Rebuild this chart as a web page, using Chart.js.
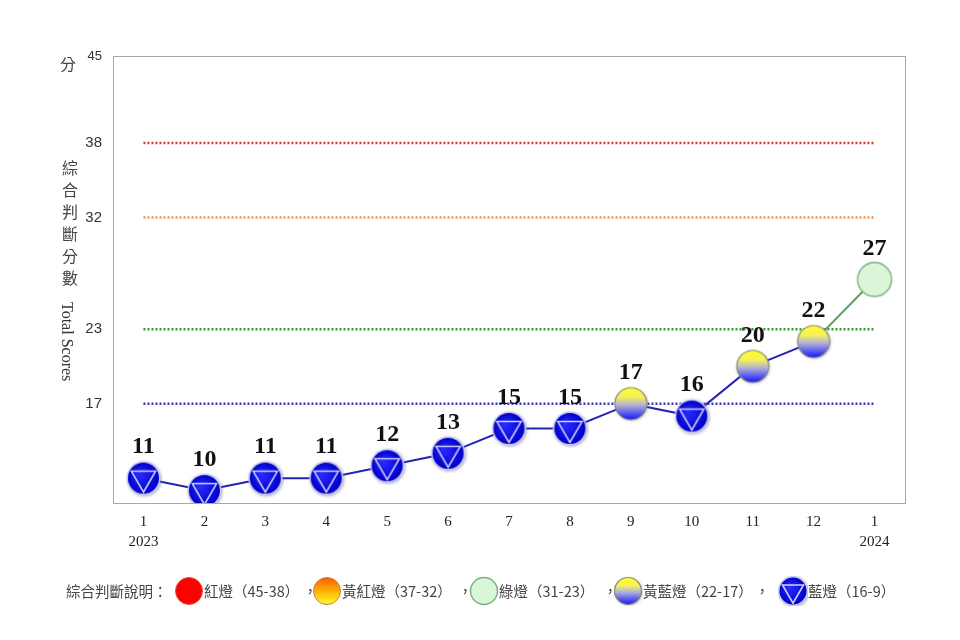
<!DOCTYPE html>
<html>
<head>
<meta charset="utf-8">
<script src="https://cdn.jsdelivr.net/npm/chart.js@4"></script>
<style>
  body { margin: 0; background: #fff; }
  #wrap { position: relative; width: 960px; height: 640px; }
  .txt { position: absolute; color: #444; font-family: "Noto Sans CJK TC", sans-serif; white-space: nowrap; }
  .vert { writing-mode: vertical-rl; }
  .legend-item { position: absolute; top: 578px; height: 26px; line-height: 26px; font-size: 14.5px; color: #444;
    font-family: "Noto Sans CJK TC", sans-serif; white-space: nowrap; }
  .legend-item canvas { position: absolute; }
</style>
</head>
<body>
<div id="wrap">
  <canvas id="scoreChart" width="960" height="640"></canvas>
  <div class="txt" style="left:60px; top:51px; font-size:16px;">分</div>
  <div class="txt vert" style="left:58px; top:160px; font-size:16px; letter-spacing:6px;">綜合判斷分數</div>
  <div class="txt vert" style="left:58px; top:302px; font-size:16px; color:#333; font-family:'Liberation Serif', serif;">Total Scores</div>
  <div id="legend"></div>
</div>
<script>
// Monthly composite scores
const months = ['1', '2', '3', '4', '5', '6', '7', '8', '9', '10', '11', '12', '1'];
const years = ['2023', '', '', '', '', '', '', '', '', '', '', '', '2024'];
const scores = [11, 10, 11, 11, 12, 13, 15, 15, 17, 16, 20, 22, 27];

// Y axis ticks and signal thresholds
const yTicks = [17, 23, 32, 38, 45];
const thresholds = [38, 32, 23, 17];
const thresholdColors = ['#d83a3a', '#e0955a', '#2f9a2f', '#3535b5'];

// Legend entries
const legendTitle = '綜合判斷說明：';
const legendLabels = ['紅燈（45-38）', '黃紅燈（37-32）', '綠燈（31-23）', '黃藍燈（22-17）', '藍燈（16-9）'];
const legendKinds = ['red', 'orange', 'green', 'yellowblue', 'blue'];

// Marker drawing
function drawMarker(ctx, kind, cx, cy, r) {
  ctx.save();
  if (kind === 'blue') {
    ctx.shadowColor = 'rgba(120,120,160,0.6)';
    ctx.shadowBlur = 3;
    ctx.shadowOffsetX = 1;
    ctx.shadowOffsetY = 1;
    ctx.beginPath();
    ctx.arc(cx, cy, r + 1.5, 0, Math.PI * 2);
    ctx.fillStyle = '#c8c8f0';
    ctx.fill();
    ctx.shadowColor = 'transparent';
    const g = ctx.createRadialGradient(cx - r * 0.3, cy - r * 0.3, 1, cx, cy, r);
    g.addColorStop(0, '#2a2aff');
    g.addColorStop(1, '#0000c8');
    ctx.beginPath();
    ctx.arc(cx, cy, r, 0, Math.PI * 2);
    ctx.fillStyle = g;
    ctx.fill();
    const tr = r * 0.9;
    ctx.beginPath();
    ctx.moveTo(cx - tr * Math.cos(Math.PI / 6), cy - tr * 0.5);
    ctx.lineTo(cx + tr * Math.cos(Math.PI / 6), cy - tr * 0.5);
    ctx.lineTo(cx, cy + tr);
    ctx.closePath();
    ctx.strokeStyle = '#d0d0ff';
    ctx.lineWidth = 1.6;
    ctx.stroke();
  } else if (kind === 'yellowblue') {
    ctx.shadowColor = 'rgba(120,120,140,0.5)';
    ctx.shadowBlur = 3;
    ctx.shadowOffsetX = 1;
    ctx.shadowOffsetY = 1;
    const g = ctx.createLinearGradient(cx, cy - r, cx, cy + r);
    g.addColorStop(0, '#ffff20');
    g.addColorStop(0.3, '#f4f060');
    g.addColorStop(0.55, '#b0b0d8');
    g.addColorStop(1, '#1414ff');
    ctx.beginPath();
    ctx.arc(cx, cy, r, 0, Math.PI * 2);
    ctx.fillStyle = g;
    ctx.fill();
    ctx.shadowColor = 'transparent';
    ctx.strokeStyle = '#8a8a70';
    ctx.lineWidth = 1.2;
    ctx.stroke();
  } else if (kind === 'green') {
    ctx.beginPath();
    ctx.arc(cx, cy, r, 0, Math.PI * 2);
    ctx.fillStyle = '#d9f6d9';
    ctx.fill();
    ctx.strokeStyle = '#7cae7c';
    ctx.lineWidth = 1.4;
    ctx.stroke();
  } else if (kind === 'red') {
    ctx.beginPath();
    ctx.arc(cx, cy, r, 0, Math.PI * 2);
    ctx.fillStyle = '#ff0000';
    ctx.fill();
    ctx.strokeStyle = '#e05050';
    ctx.lineWidth = 1;
    ctx.stroke();
  } else if (kind === 'orange') {
    const g = ctx.createLinearGradient(cx, cy - r, cx, cy + r);
    g.addColorStop(0, '#ff5a00');
    g.addColorStop(0.5, '#ffb000');
    g.addColorStop(1, '#ffff30');
    ctx.beginPath();
    ctx.arc(cx, cy, r, 0, Math.PI * 2);
    ctx.fillStyle = g;
    ctx.fill();
    ctx.strokeStyle = '#c08040';
    ctx.lineWidth = 1;
    ctx.stroke();
  }
  ctx.restore();
}

function makeMarker(kind, r) {
  const c = document.createElement('canvas');
  const size = Math.ceil(2 * r + 8);
  c.width = size;
  c.height = size;
  drawMarker(c.getContext('2d'), kind, size / 2, size / 2, r);
  return c;
}

function kindFor(v) {
  if (v >= 38) return 'red';
  if (v >= 32) return 'orange';
  if (v >= 23) return 'green';
  if (v >= 17) return 'yellowblue';
  return 'blue';
}

const markerCache = {
  blue: makeMarker('blue', 15.5),
  yellowblue: makeMarker('yellowblue', 16),
  green: makeMarker('green', 17),
  orange: makeMarker('orange', 16),
  red: makeMarker('red', 16)
};

// Legend
function addLegendText(host, left, text) {
  const el = document.createElement('div');
  el.className = 'legend-item';
  el.style.left = left + 'px';
  el.textContent = text;
  host.appendChild(el);
}

function buildLegend() {
  const host = document.getElementById('legend');
  addLegendText(host, 66, legendTitle);

  const iconCenters = [189, 327, 484, 628, 793];
  const commaLefts = [303, 458, 603, 755];
  legendLabels.forEach((label, i) => {
    const item = document.createElement('div');
    item.className = 'legend-item';
    item.style.left = (iconCenters[i] - 15) + 'px';
    const icon = document.createElement('canvas');
    icon.width = 30;
    icon.height = 30;
    icon.style.left = '0px';
    icon.style.top = '-2px';
    drawMarker(icon.getContext('2d'), legendKinds[i], 15, 15, 13.5);
    item.appendChild(icon);
    const span = document.createElement('span');
    span.style.marginLeft = '30px';
    span.textContent = label;
    item.appendChild(span);
    host.appendChild(item);
    if (i < commaLefts.length) addLegendText(host, commaLefts[i], '，');
  });
}

// Plot frame
const framePlugin = {
  id: 'frame',
  afterDraw(chart) {
    const a = chart.chartArea;
    const ctx = chart.ctx;
    ctx.save();
    ctx.strokeStyle = '#a8a8a8';
    ctx.lineWidth = 1;
    ctx.strokeRect(Math.round(a.left) + 0.5, Math.round(a.top) + 0.5,
      Math.round(a.right - a.left), Math.round(a.bottom - a.top));
    ctx.restore();
  }
};

// Value labels above the markers
const valueLabels = {
  id: 'valueLabels',
  afterDatasetsDraw(chart) {
    const meta = chart.getDatasetMeta(0);
    const ctx = chart.ctx;
    ctx.save();
    ctx.font = 'bold 24px "Liberation Serif", "Times New Roman", serif';
    ctx.fillStyle = '#111';
    ctx.textAlign = 'center';
    ctx.textBaseline = 'middle';
    meta.data.forEach((pt, i) => {
      ctx.fillText(String(scores[i]), pt.x, pt.y - 31);
    });
    ctx.restore();
  }
};

function initScoreChart() {
  const canvas = document.getElementById('scoreChart');
  if (!canvas || typeof Chart === 'undefined') return;

  const labels = months.map((m, i) => years[i] ? [m, years[i]] : m);

  const thresholdSets = thresholds.map((t, i) => ({
    data: months.map(() => t),
    borderColor: thresholdColors[i],
    borderWidth: 2.5,
    borderDash: [2, 2],
    pointRadius: 0,
    fill: false
  }));

  new Chart(canvas.getContext('2d'), {
    type: 'line',
    data: {
      labels: labels,
      datasets: [
        {
          data: scores,
          borderColor: '#2323b4',
          borderWidth: 2,
          pointStyle: scores.map(v => markerCache[kindFor(v)]),
          pointRadius: 16,
          segment: {
            borderColor: c => c.p1.parsed.y >= 23 ? '#5c9e5c' : '#2323b4'
          },
          fill: false
        },
        ...thresholdSets
      ]
    },
    options: {
      responsive: false,
      animation: false,
      layout: { padding: { top: 56, right: 55, left: 0, bottom: 0 } },
      plugins: {
        legend: { display: false },
        tooltip: { enabled: false }
      },
      scales: {
        x: {
          offset: true,
          grid: { display: false, drawTicks: false },
          border: { display: false },
          afterFit: scale => { scale.height = 137; },
          ticks: {
            padding: 9,
            maxRotation: 0,
            autoSkip: false,
            color: '#222',
            font: { family: '"Liberation Serif", serif', size: 15, lineHeight: 1.35 }
          }
        },
        y: {
          min: 9,
          max: 45,
          grid: { display: false, drawTicks: false },
          border: { display: false },
          afterFit: scale => { scale.width = 113; },
          afterBuildTicks: scale => { scale.ticks = yTicks.map(v => ({ value: v })); },
          ticks: {
            padding: 11,
            color: '#333',
            font: c => ({ family: '"Liberation Sans", sans-serif', size: c.tick && c.tick.value === 45 ? 13 : 15 })
          }
        }
      }
    },
    plugins: [framePlugin, valueLabels]
  });
}

buildLegend();
initScoreChart();
</script>
</body>
</html>
